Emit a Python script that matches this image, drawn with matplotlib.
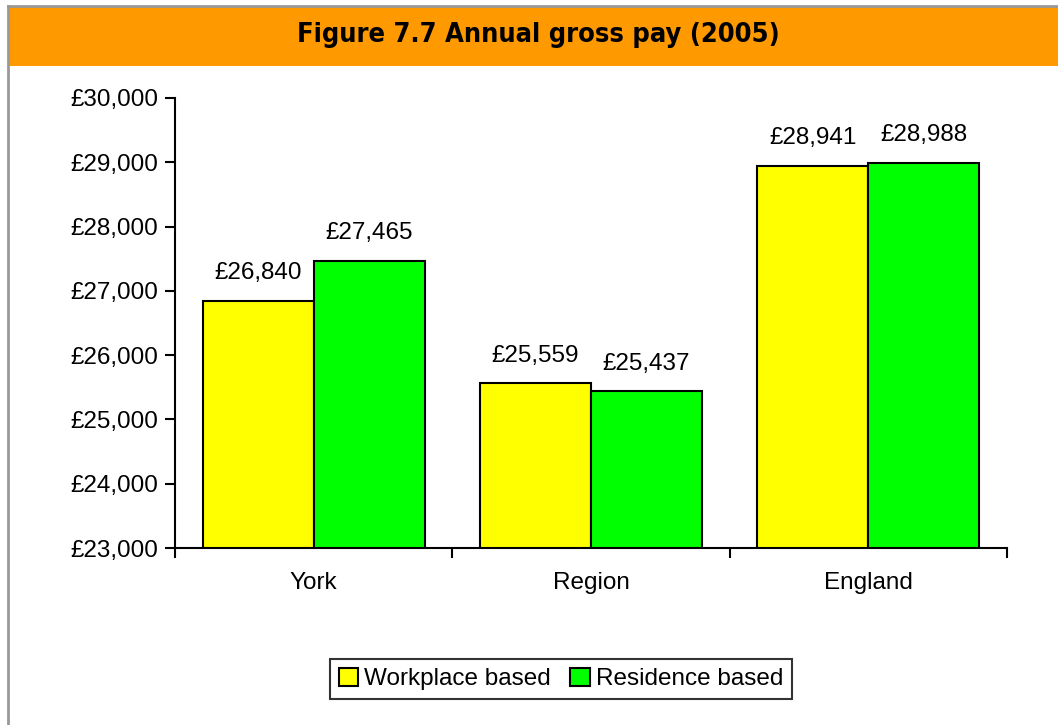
import matplotlib
matplotlib.use('Agg')
import matplotlib.pyplot as plt
from matplotlib.patches import Rectangle
from matplotlib.lines import Line2D
import numpy as np

categories = ['York', 'Region', 'England']
workplace = [26840, 25559, 28941]
residence = [27465, 25437, 28988]
series_names = ['Workplace based', 'Residence based']
yticks = list(range(23000, 30001, 1000))

W, H = 1058, 725
FONT = 'Liberation Sans'
FS = 17.5


def money(v):
    return '£{:,}'.format(v)


def main():
    fig = plt.figure(figsize=(W / 100, H / 100), dpi=100)
    fig.patch.set_facecolor('white')

    # frame + orange title bar
    fig.patches.append(Rectangle((8 / W, 1 - 66 / H), 1, 60 / H, transform=fig.transFigure,
                                 facecolor='#FF9900', edgecolor='none', zorder=0))
    fig.lines.append(Line2D([8 / W, 8 / W], [0, 1 - 6 / H], transform=fig.transFigure,
                            color='#999999', lw=2))
    fig.lines.append(Line2D([8 / W, 1], [1 - 6 / H, 1 - 6 / H], transform=fig.transFigure,
                            color='#999999', lw=2))
    fig.text(538 / W, 1 - 35 / H, 'Figure 7.7 Annual gross pay (2005)', ha='center', va='center',
             fontsize=19.5, fontweight='bold', family='DejaVu Sans', fontstretch='condensed')

    ax = fig.add_axes([175 / W, 1 - 548 / H, 832 / W, 450 / H])
    x = np.arange(len(categories))
    w = 0.4
    b1 = ax.bar(x - w / 2, workplace, w, color='#FFFF00', edgecolor='black', lw=1.5,
                label=series_names[0])
    b2 = ax.bar(x + w / 2, residence, w, color='#00FF00', edgecolor='black', lw=1.5,
                label=series_names[1])
    for bars, vals in ((b1, workplace), (b2, residence)):
        for r, v in zip(bars, vals):
            ax.annotate(money(v), (r.get_x() + r.get_width() / 2, v), xytext=(0, 12),
                        textcoords='offset points', ha='center', va='bottom',
                        fontsize=FS, family=FONT)

    ax.set_xlim(-0.5, len(categories) - 0.5)
    ax.set_ylim(23000, 30000)
    ax.set_yticks(yticks)
    ax.set_yticklabels([money(v) for v in yticks], fontsize=FS, family=FONT)
    ax.set_xticks(np.arange(len(categories) + 1) - 0.5)
    ax.set_xticklabels([])
    ax.set_xticks(x, minor=True)
    ax.set_xticklabels(categories, minor=True, fontsize=FS, family=FONT)
    ax.tick_params(axis='x', which='minor', length=0, pad=17)
    ax.tick_params(axis='both', which='major', length=7, width=1.5, direction='out', color='black')
    ax.tick_params(axis='y', pad=5)
    for s in ('top', 'right'):
        ax.spines[s].set_visible(False)
    for s in ('left', 'bottom'):
        ax.spines[s].set_linewidth(1.5)

    leg = fig.legend(handles=[b1, b2], loc='center', bbox_to_anchor=(561 / W, 1 - 679 / H),
                     ncol=2, frameon=True, fancybox=False, prop={'family': FONT, 'size': FS},
                     handlelength=0.8, handleheight=0.8, handletextpad=0.25, columnspacing=0.8,
                     borderpad=0.35, edgecolor='black')
    leg.get_frame().set_linewidth(1.5)

    fig.savefig('out.png', dpi=100)


if __name__ == '__main__':
    main()
